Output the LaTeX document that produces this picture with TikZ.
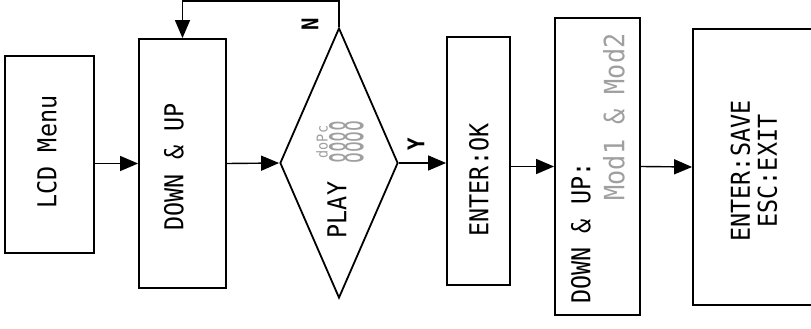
\documentclass[tikz,border=0pt]{standalone}
\usepackage{fontspec}
\usepackage{graphicx}
\newfontfamily\lcdfont[FakeStretch=0.9]{DejaVu Sans Mono}
\usetikzlibrary{shapes.geometric,arrows.meta}

\begin{document}
\begin{tikzpicture}
[x=1pt,y=-1pt,
 boxDecorate/.style={shape=rectangle,draw,line width=1.8pt,inner sep=0pt},
 diamondDecorate/.style={shape=diamond,draw,line width=1.8pt,inner sep=0pt,
   minimum width=118pt,minimum height=270pt},
 lineDecorate/.style={-{Triangle[length=18pt,width=15pt]},line width=1.4pt},
 textDecorate/.style={font=\lcdfont\fontsize{26}{27}\selectfont,rotate=90,align=center},
 segDecorate/.style={font=\lcdfont\fontsize{28}{28}\selectfont,text=gray!75,rotate=90},
 ynDecorate/.style={font=\lcdfont\bfseries\fontsize{23}{23}\selectfont,rotate=90}]
\useasboundingbox (0,0) rectangle (811,329);
%% boxes
\foreach \nodename/\x/\y/\w/\h in {menu/49.5/154.5/89/197, down/182.5/163.5/87/249,
    enter/478.5/161/63/248, mode/597.5/166.5/85/297, save/757/167/128/276} {
  \node (\nodename) at (\x,\y) [boxDecorate,minimum width=\w pt,minimum height=\h pt] {};
}
\node (play) at (339,163) [diamondDecorate] {};
%% texts
\node (menutext) at (47,152) [textDecorate] {LCD Menu};
\node (downtext) at (174,167) [textDecorate] {DOWN \& UP};
\node (playtext) at (337,210) [textDecorate] {PLAY};
\node (playlcd) at (340,142) [rotate=90,text=gray!75,font=\lcdfont,align=center,inner sep=0pt]
  {{\fontsize{15}{16}\selectfont doPc}\\\scalebox{1}[2.3]{\fontsize{20}{20}\selectfont 8888}};
\node (entertext) at (479,180) [textDecorate] {ENTER:OK};
\node (modetext) at (581,233) [textDecorate] {DOWN \& UP:};
\node (modelcd) at (614,117) [segDecorate] {Mod1 \& Mod2};
\node (savetext) at (754,171) [textDecorate] {ENTER:SAVE\\ESC:EXIT};
\node (no) at (310,24) [ynDecorate] {N};
\node (yes) at (416,144) [ynDecorate] {Y};
%% edges or lines
\coordinate (back) at (182.5,1);
\draw[lineDecorate] (menu.east |- down.west) -- (down.west);
\draw[lineDecorate] (down.east) -- (play.west);
\draw[lineDecorate] (play.east) -- (enter.west |- play.east);
\draw[lineDecorate] (enter.east |- mode.west) -- (mode.west);
\draw[lineDecorate] (mode.east) -- (save.west);
\draw[lineDecorate] (play.north) |- (back) -- (down.north);
\end{tikzpicture}
\end{document}
